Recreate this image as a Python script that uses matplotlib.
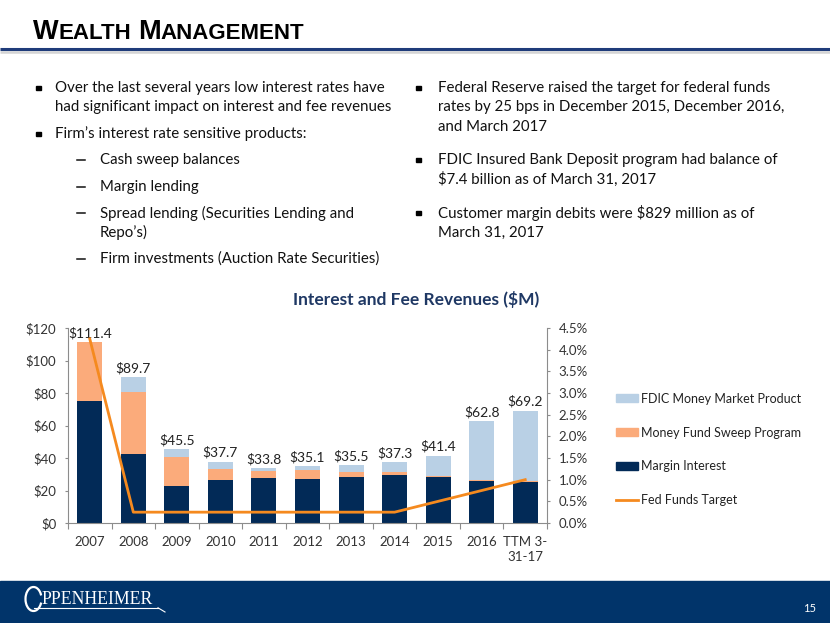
import numpy as np
import matplotlib
matplotlib.use("Agg")
import matplotlib.pyplot as plt
from matplotlib.patches import Rectangle, Arc, Patch
from matplotlib.lines import Line2D
from matplotlib.ticker import FuncFormatter

# data
years = ["2007", "2008", "2009", "2010", "2011", "2012", "2013", "2014", "2015", "2016", "TTM 3-\n31-17"]
margin_interest = [75.0, 42.2, 22.8, 26.5, 28.0, 27.0, 28.4, 29.6, 28.6, 25.7, 25.3]
money_fund_sweep = [36.4, 38.3, 17.6, 6.6, 3.9, 5.5, 3.1, 1.7, 0.2, 0.5, 0.3]
fdic_money_market = [0.0, 9.2, 5.1, 4.6, 1.9, 2.6, 4.0, 6.0, 12.6, 36.6, 43.6]
totals = [111.4, 89.7, 45.5, 37.7, 33.8, 35.1, 35.5, 37.3, 41.4, 62.8, 69.2]
fed_funds = [4.25, 0.25, 0.25, 0.25, 0.25, 0.25, 0.25, 0.25, 0.5, 0.75, 1.0]

left_bullets = [
    ["Over the last several years low interest rates have",
     "had significant impact on interest and fee revenues"],
    ["Firm\u2019s interest rate sensitive products:"],
]
sub_bullets = [
    ["Cash sweep balances"],
    ["Margin lending"],
    ["Spread lending (Securities Lending and", "Repo\u2019s)"],
    ["Firm investments (Auction Rate Securities)"],
]
right_bullets = [
    ["Federal Reserve raised the target for federal funds",
     "rates by 25 bps in December 2015, December 2016,",
     "and March 2017"],
    ["FDIC Insured Bank Deposit program had balance of",
     "$7.4 billion as of March 31, 2017"],
    ["Customer margin debits were $829 million as of",
     "March 31, 2017"],
]

NAVY = "#022a57"
PEACH = "#fbab7b"
LIGHTBLUE = "#b9d0e5"
ORANGE = "#f58a1f"
TXT = "#111111"
BODY = "Lato"
FS = 10.8
PITCH = 19.4

W, H = 830, 623
fig = plt.figure(figsize=(W / 100, H / 100), dpi=100)

# background layer in pixel coordinates
bg = fig.add_axes([0, 0, 1, 1])
bg.set_xlim(0, W)
bg.set_ylim(H, 0)
bg.axis("off")

# title in small caps
renderer = fig.canvas.get_renderer()
x = 33
for piece, size in [("W", 19.5), ("EALTH", 16), (" ", 16), ("M", 19.5), ("ANAGEMENT", 16)]:
    t = bg.text(x, 39, piece, fontsize=size, fontweight="bold", family="Liberation Sans",
                va="baseline", ha="left", color="black")
    if piece == " ":
        x += 6.5
    else:
        x += t.get_window_extent(renderer).width
bg.plot([0, W], [51.5, 51.5], color="#d4d4d4", lw=1.8, solid_capstyle="butt")
bg.plot([0, W], [49, 49], color="#1f3c7a", lw=2.2, solid_capstyle="butt")


def bullet_block(xm, xt, y0, lines, marker="square"):
    if marker == "square":
        bg.add_patch(Rectangle((xm - 2.2, y0 - 2.2), 4.4, 4.4, color="black"))
    else:
        bg.plot([xm, xm + 8], [y0, y0], color=TXT, lw=1.1)
    for i, line in enumerate(lines):
        bg.text(xt, y0 + i * PITCH, line, fontsize=FS, family=BODY, va="center",
                ha="left", color=TXT)


bullet_block(38.5, 55, 88, left_bullets[0])
bullet_block(38.5, 55, 134, left_bullets[1])
for yy, lines in zip([160, 187, 213, 259], sub_bullets):
    bullet_block(77, 100, yy, lines, marker="dash")
for yy, lines in zip([88, 160, 213], right_bullets):
    bullet_block(418.5, 438, yy, lines)

# chart title
bg.text(416, 300, "Interest and Fee Revenues ($M)", fontsize=12.5, fontweight="bold",
        family=BODY, color="#1f3864", ha="center", va="center")

# footer band and logo
bg.add_patch(Rectangle((0, 581), W, H - 581, color="#01346a", zorder=0))
bg.add_patch(Arc((33.5, 599), 16, 24, theta1=25, theta2=335, color="white", lw=1.6, zorder=2))
bg.text(41, 604.5, "PPENHEIMER", fontsize=12.8, family="Liberation Serif", color="white",
        ha="left", va="baseline", zorder=2)
bg.plot([34, 158], [607.8, 607.8], color="white", lw=0.8, zorder=2)
bg.plot([158, 165], [607.8, 612], color="white", lw=0.8, zorder=2)
bg.text(810, 609, "15", fontsize=8, color="white", ha="center", va="center", family=BODY, zorder=2)

# chart
ax = fig.add_axes([68 / W, 1 - 523 / H, (547 - 68) / W, (523 - 328) / H])
ax.patch.set_alpha(0)
xpos = np.arange(len(years))
bw = 0.575
m = np.array(margin_interest)
s = np.array(money_fund_sweep)
f = np.array(fdic_money_market)
ax.bar(xpos, m, bw, color=NAVY, zorder=2)
ax.bar(xpos, s, bw, bottom=m, color=PEACH, zorder=2)
ax.bar(xpos, f, bw, bottom=m + s, color=LIGHTBLUE, zorder=2)
for xi, tot in zip(xpos, totals):
    ax.annotate(f"${tot:.1f}", (xi, tot), xytext=(0, 2), textcoords="offset points",
                ha="center", va="bottom", fontsize=10, family=BODY, color="#222222")

ax.set_xlim(-0.5, len(years) - 0.5)
ax.set_ylim(0, 120)
ax.set_yticks(np.arange(0, 121, 20))
ax.yaxis.set_major_formatter(FuncFormatter(lambda v, p: f"${v:.0f}"))
ax.set_xticks(np.arange(-0.5, len(years), 1))
ax.set_xticklabels([])
ax.set_xticks(xpos, minor=True)
ax.set_xticklabels(years, minor=True)
ax.tick_params(axis="x", which="major", length=4, color="#8c8c8c", direction="out")
ax.tick_params(axis="x", which="minor", length=0, pad=9, labelsize=9.5, labelcolor="#333333")
ax.tick_params(axis="y", length=2.5, color="#8c8c8c", pad=6, labelsize=9.5, labelcolor="#333333")
for lab in ax.get_xticklabels(minor=True) + ax.get_yticklabels():
    lab.set_family(BODY)
    lab.set_linespacing(1.35)
ax.spines["top"].set_visible(False)
ax.spines["right"].set_visible(False)
for sp in ["left", "bottom"]:
    ax.spines[sp].set_color("#8c8c8c")

ax2 = ax.twinx()
ax2.plot(xpos, np.array(fed_funds) / 100, color=ORANGE, lw=2, zorder=3)
ax2.set_ylim(0, 0.045)
ax2.set_yticks(np.arange(0, 0.0451, 0.005))
ax2.yaxis.set_major_formatter(FuncFormatter(lambda v, p: f"{v * 100:.1f}%"))
ax2.tick_params(axis="y", length=2.5, color="#8c8c8c", pad=6, labelsize=9.5, labelcolor="#333333")
for lab in ax2.get_yticklabels():
    lab.set_family(BODY)
ax2.spines["top"].set_visible(False)
ax2.spines["left"].set_visible(False)
ax2.spines["bottom"].set_visible(False)
ax2.spines["right"].set_color("#8c8c8c")

handles = [
    Patch(color=LIGHTBLUE, label="FDIC Money Market Product"),
    Patch(color=PEACH, label="Money Fund Sweep Program"),
    Patch(color=NAVY, label="Margin Interest"),
    Line2D([], [], color=ORANGE, lw=2, label="Fed Funds Target"),
]
leg = fig.legend(handles=handles, loc="center left", bbox_to_anchor=(605 / W, 1 - 449.5 / H),
                 frameon=False, prop={"family": BODY, "size": 9}, labelspacing=1.75,
                 handlelength=1.7, handleheight=0.6, handletextpad=0.3)
for t in leg.get_texts():
    t.set_color("#222222")

fig.savefig("out.png", dpi=100)
